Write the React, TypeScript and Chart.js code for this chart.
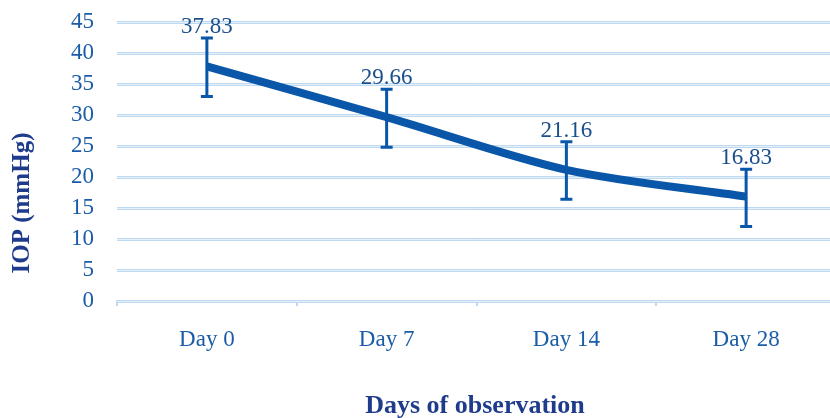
import React, { useEffect, useRef } from "react";
import { Chart, registerables } from "chart.js";

Chart.register(...registerables);

const categories = ["Day 0", "Day 7", "Day 14", "Day 28"];
const iopMean = [37.83, 29.66, 21.16, 16.83];
const errLow = [33.0, 24.8, 16.4, 12.0];
const errHigh = [42.4, 34.15, 25.7, 21.25];
const yTicks = [0, 5, 10, 15, 20, 25, 30, 35, 40, 45];

const LINE = "#0a56a8";
const TICK = "#1b5ca8";
const TITLE = "#1f3c8c";
const GRID = "#bfdaf0";
const GRID_INNER = "#e4f0fa";
const SERIF = "'Liberation Serif', 'Times New Roman', serif";

const extrasPlugin = {
  id: "extras",
  beforeDatasetsDraw(chart: any) {
    const { ctx, scales, chartArea } = chart;
    const y = scales.y;
    ctx.save();
    ctx.strokeStyle = GRID_INNER;
    ctx.lineWidth = 1;
    yTicks.forEach((v) => {
      const py = Math.round(y.getPixelForValue(v)) + 0.5;
      ctx.beginPath();
      ctx.moveTo(chartArea.left, py);
      ctx.lineTo(chartArea.right, py);
      ctx.stroke();
    });
    ctx.restore();
  },
  afterDatasetsDraw(chart: any) {
    const { ctx, scales } = chart;
    const x = scales.x;
    const y = scales.y;
    ctx.save();
    ctx.strokeStyle = LINE;
    ctx.lineWidth = 3;
    categories.forEach((_, i) => {
      const px = x.getPixelForValue(i);
      const yt = y.getPixelForValue(errHigh[i]);
      const yb = y.getPixelForValue(errLow[i]);
      ctx.beginPath();
      ctx.moveTo(px, yt);
      ctx.lineTo(px, yb);
      ctx.moveTo(px - 6, yt);
      ctx.lineTo(px + 6, yt);
      ctx.moveTo(px - 6, yb);
      ctx.lineTo(px + 6, yb);
      ctx.stroke();
    });
    ctx.fillStyle = "#1b4f8c";
    ctx.font = `23px ${SERIF}`;
    ctx.textAlign = "center";
    ctx.textBaseline = "alphabetic";
    categories.forEach((_, i) => {
      const px = x.getPixelForValue(i);
      const yt = y.getPixelForValue(errHigh[i]);
      ctx.fillText(iopMean[i].toFixed(2), px, yt - 5);
    });
    ctx.fillStyle = TITLE;
    ctx.font = `bold 26px ${SERIF}`;
    ctx.textAlign = "center";
    ctx.textBaseline = "middle";
    ctx.fillText("Days of observation", 475, 406);
    ctx.translate(23, 203);
    ctx.rotate(-Math.PI / 2);
    ctx.font = `bold 25px ${SERIF}`;
    ctx.fillText("IOP (mmHg)", 0, 0);
    ctx.restore();
  },
};

export default function App() {
  const ref = useRef<HTMLCanvasElement>(null);
  useEffect(() => {
    document.body.style.margin = "0";
    document.body.style.overflow = "hidden";
    const chart = new Chart(ref.current!, {
      type: "line",
      data: {
        labels: categories,
        datasets: [
          {
            data: iopMean,
            borderColor: LINE,
            borderWidth: 8,
            pointRadius: 0,
            tension: 0.3,
            fill: false,
          },
        ],
      },
      options: {
        responsive: false,
        animation: false,
        devicePixelRatio: 1,
        layout: { padding: { top: 22, right: 10, left: 0, bottom: 0 } },
        plugins: { legend: { display: false }, tooltip: { enabled: false } },
        scales: {
          x: {
            offset: true,
            afterFit: (s: any) => {
              s.height = 117;
              s.paddingLeft = 0;
              s.paddingRight = 0;
            },
            grid: {
              offset: true,
              drawOnChartArea: false,
              drawTicks: true,
              tickLength: 5,
              color: GRID,
              lineWidth: 2,
            },
            border: { display: true, color: GRID, width: 3 },
            ticks: {
              color: TICK,
              font: { family: SERIF, size: 23 },
              padding: 20,
              autoSkip: false,
              maxRotation: 0,
            },
          },
          y: {
            min: 0,
            max: 45,
            afterFit: (s: any) => {
              s.width = 117;
              s.paddingTop = 0;
              s.paddingBottom = 0;
            },
            afterBuildTicks: (s: any) => {
              s.ticks = yTicks.map((v) => ({ value: v }));
            },
            grid: {
              drawTicks: false,
              color: GRID,
              lineWidth: 3,
            },
            border: { display: false },
            ticks: {
              color: TICK,
              font: { family: SERIF, size: 23 },
              padding: 23,
              autoSkip: false,
            },
          },
        },
      },
      plugins: [extrasPlugin],
    });
    return () => chart.destroy();
  }, []);
  return (
    <div style={{ position: "fixed", left: 0, top: 0, width: 830, height: 418, overflow: "hidden" }}>
      <canvas ref={ref} width={846} height={418} />
    </div>
  );
}
